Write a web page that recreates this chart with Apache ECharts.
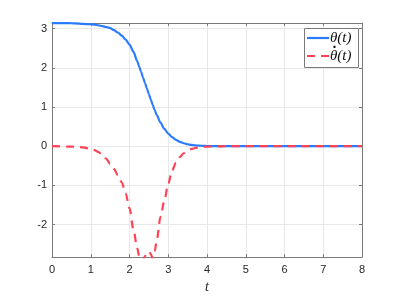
<!DOCTYPE html>
<html><head><meta charset="utf-8">
<script src="https://cdn.jsdelivr.net/npm/echarts@6/dist/echarts.min.js"></script>
<style>html,body{margin:0;padding:0;background:#fff}#c{width:399px;height:299px}</style>
</head><body><div id="c"></div>
<script>
const tVals = [0,0.2,0.4,0.6,0.8,1.0,1.1,1.2,1.3,1.4,1.5,1.6,1.7,1.8,1.9,2.0,2.1,2.2,2.25,2.3,2.35,2.4,2.45,2.5,2.55,2.6,2.65,2.7,2.8,2.9,3.0,3.1,3.2,3.3,3.4,3.5,3.6,3.7,3.8,3.9,4.0,4.2,4.5,5,6,7,8];
const thetaVals = [3.14,3.14,3.14,3.13,3.12,3.11,3.10,3.08,3.06,3.04,3.01,2.96,2.90,2.82,2.72,2.59,2.41,2.17,2.03,1.89,1.75,1.61,1.47,1.33,1.19,1.05,0.92,0.80,0.60,0.44,0.32,0.23,0.16,0.11,0.075,0.05,0.033,0.022,0.014,0.009,0.005,0.002,0,0,0,0,0];
const thetaDotVals = [0,-0.003,-0.008,-0.014,-0.03,-0.07,-0.10,-0.15,-0.22,-0.32,-0.45,-0.58,-0.74,-0.92,-1.2,-1.58,-2.12,-2.6,-2.8,-2.93,-2.9,-2.8,-2.71,-2.69,-2.75,-2.86,-2.68,-2.42,-1.8,-1.38,-0.95,-0.62,-0.42,-0.28,-0.18,-0.11,-0.07,-0.045,-0.028,-0.017,-0.01,-0.004,0,0,0,0,0];
const xTicks = [0,1,2,3,4,5,6,7,8];
const yTicks = [-2,-1,0,1,2,3];
const yMin = -2.8274, yMax = 3.1416;
const seriesNames = ['θ(t)', 'θ̇(t)'];
const legendLabels = ['θ(t)', 'θ(t)'];

const axisCol = '#7a7a7a';
const gridCol = '#e8e8e8';
const blue = '#2a7bff', red = '#ff4356';
const labelStyle = {color:'#262626', fontFamily:'Liberation Sans', fontSize:11};

function xAx(pos, showLabel){
  return {type:'value', position:pos, min:0, max:8, interval:1,
    axisLine:{show:true, onZero:false, lineStyle:{color:axisCol, width:1}},
    axisTick:{show:true, inside:true, length:3, customValues:xTicks, lineStyle:{color:axisCol}},
    axisLabel:{show:showLabel, margin:7, customValues:xTicks, ...labelStyle},
    splitLine:{show:showLabel, lineStyle:{color:gridCol, width:1}},
    name: showLabel ? 't' : '', nameLocation:'middle', nameGap:17,
    nameTextStyle:{fontFamily:'Liberation Serif', fontStyle:'italic', fontSize:14, color:'#262626'}
  };
}
function yAx(pos, showLabel){
  return {type:'value', position:pos, min:yMin, max:yMax,
    axisLine:{show:true, onZero:false, lineStyle:{color:axisCol, width:1}},
    axisTick:{show:true, inside:true, length:3, customValues:yTicks, lineStyle:{color:axisCol}},
    axisLabel:{show:showLabel, margin:5, customValues:yTicks, ...labelStyle},
    splitLine:{show:showLabel, lineStyle:{color:gridCol, width:1}}
  };
}

const lgFont = 'italic 15px "Liberation Serif"';
const LX = 304, LY = 28, LW = 54, LH = 39;
const chart = echarts.init(document.getElementById('c'), null, {renderer:'canvas'});
chart.setOption({
  animation:false,
  backgroundColor:'#fff',
  grid:{left:52, right:37, top:23, bottom:34},
  xAxis:[xAx('bottom', true), xAx('top', false)],
  yAxis:[yAx('left', true), yAx('right', false)],
  series:[
    {name:seriesNames[0], type:'line', symbol:'none', smooth:0.3, smoothMonotone:'x', clip:true,
     data:tVals.map((t,i)=>[t, thetaVals[i]]),
     lineStyle:{color:blue, width:2.2}, itemStyle:{color:blue}, z:2},
    {name:seriesNames[1], type:'line', symbol:'none', smooth:0.3, smoothMonotone:'x', clip:true,
     data:tVals.map((t,i)=>[t, thetaDotVals[i]]),
     lineStyle:{color:red, width:2.2, type:[8,6]}, itemStyle:{color:red}, z:3}
  ],
  graphic:[
    {type:'rect', shape:{x:LX+0.5, y:LY+0.5, width:LW, height:LH}, style:{fill:'#fff', stroke:'#7a7a7a', lineWidth:1}, z:100},
    {type:'line', shape:{x1:LX+3, y1:LY+10, x2:LX+25, y2:LY+10}, style:{stroke:blue, lineWidth:2.2}, z:101},
    {type:'line', shape:{x1:LX+3, y1:LY+28, x2:LX+25, y2:LY+28}, style:{stroke:red, lineWidth:2.2, lineDash:[8,6]}, z:101},
    {type:'text', x:LX+26, y:LY+10, style:{text:legendLabels[0], font:lgFont, fill:'#111', verticalAlign:'middle'}, z:101},
    {type:'text', x:LX+26, y:LY+28, style:{text:legendLabels[1], font:lgFont, fill:'#111', verticalAlign:'middle'}, z:101},
    {type:'text', x:LX+30.5, y:LY+20.5, style:{text:'·', font:'bold 15px "Liberation Serif"', fill:'#111', verticalAlign:'middle', align:'center'}, z:102}
  ]
});
</script></body></html>
